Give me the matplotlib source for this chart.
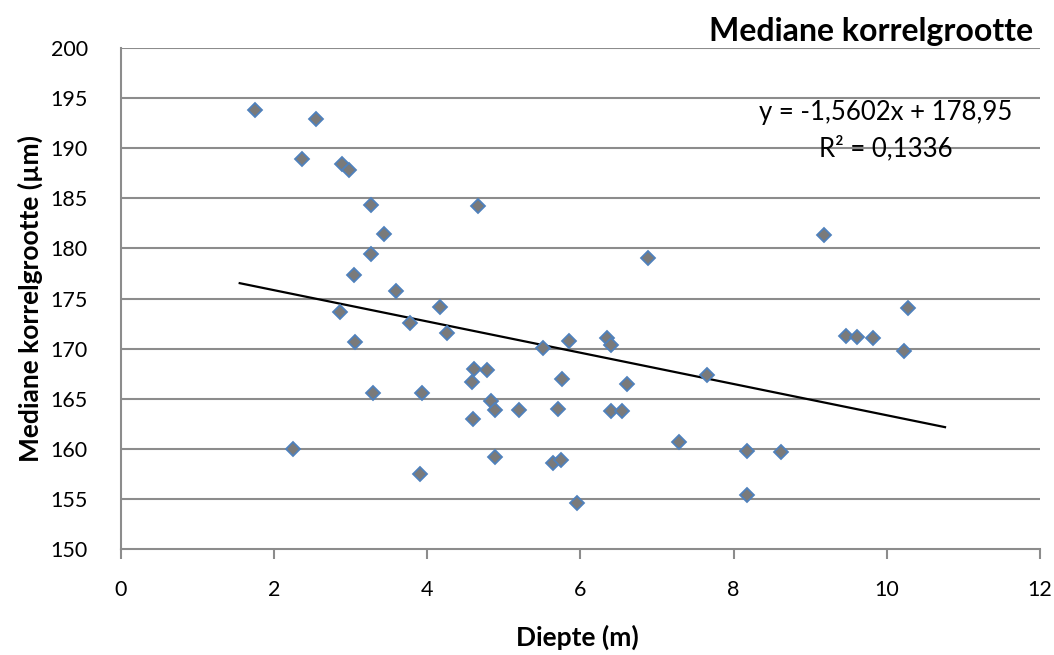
import numpy as np
import matplotlib
matplotlib.use("Agg")
import matplotlib.pyplot as plt

# diepte (m) en mediane korrelgrootte (µm)
diepte = [1.75, 2.55, 2.36, 2.88, 2.98, 3.26, 3.43, 3.26, 3.04, 3.59,
          2.86, 3.78, 4.16, 4.26, 3.05, 3.29, 3.93, 2.24, 3.90, 4.66,
          4.61, 4.78, 4.58, 4.60, 4.83, 4.89, 4.89, 5.20, 5.51, 5.85,
          5.76, 5.71, 5.64, 5.75, 5.95, 6.34, 6.40, 6.40, 6.54, 6.61,
          6.88, 7.29, 7.65, 8.17, 8.17, 8.62, 9.18, 9.47, 9.61, 9.82,
          10.23, 10.28]
korrel = [193.8, 192.9, 188.9, 188.4, 187.8, 184.3, 181.4, 179.4, 177.3, 175.8,
          173.7, 172.6, 174.2, 171.6, 170.7, 165.6, 165.6, 160.0, 157.5, 184.2,
          168.0, 167.9, 166.7, 163.0, 164.8, 163.9, 159.2, 163.9, 170.1, 170.8,
          167.0, 164.0, 158.6, 158.9, 154.6, 171.1, 170.4, 163.8, 163.8, 166.5,
          179.0, 160.7, 167.4, 159.8, 155.4, 159.7, 181.3, 171.3, 171.2, 171.1,
          169.8, 174.1]

# trendlijn zoals in het label
slope, intercept = -1.5602, 178.95
trend_x = [1.55, 10.76]
eq_text = "y = -1,5602x + 178,95"
r2_text = "R² = 0,1336"

plt.rcParams["font.family"] = ["Lato", "DejaVu Sans"]

fig = plt.figure(figsize=(10.54, 6.55), dpi=100)
ax = fig.add_axes([0.1148, 0.1618, 0.8719, 0.7649])

grid_c = "#8c8c8c"
for v in range(155, 201, 5):
    ax.axhline(v, color=grid_c, lw=1.5, zorder=0)

tx = np.array(trend_x)
ax.plot(tx, slope * tx + intercept, color="black", lw=1.6, zorder=2)
ax.plot(diepte, korrel, ls="none", marker="D", ms=7.5, mfc="#7a7a7a",
        mec="#4f81bd", mew=1.3, zorder=3)

ax.set_xlim(0, 12)
ax.set_ylim(150, 200)
ax.set_xticks(range(0, 13, 2))
ax.set_yticks(range(150, 201, 5))
for s in ("top", "right"):
    ax.spines[s].set_visible(False)
for s in ("left", "bottom"):
    ax.spines[s].set_color(grid_c)
    ax.spines[s].set_linewidth(1.5)
ax.tick_params(axis="x", direction="out", length=7, width=1.5, color=grid_c,
               labelsize=15.5, pad=15)
ax.tick_params(axis="y", length=0, labelsize=15.5, pad=24)

ax.set_xlabel("Diepte (m)", fontsize=19, fontweight="bold", va="center")
ax.xaxis.set_label_coords(0.497, -0.176)
ax.set_ylabel("Mediane korrelgrootte (µm)", fontsize=19, fontweight="bold", va="center")
ax.yaxis.set_label_coords(-0.099, 0.5)

fig.text(0.980, 0.952, "Mediane korrelgrootte", ha="right", va="center",
         fontsize=23, fontweight="bold")
ax.text(9.99, 193.6, eq_text, ha="center", va="center", fontsize=18.5)
ax.text(9.99, 190.0, r2_text, ha="center", va="center", fontsize=18.5)

fig.savefig("out.png", dpi=100)
